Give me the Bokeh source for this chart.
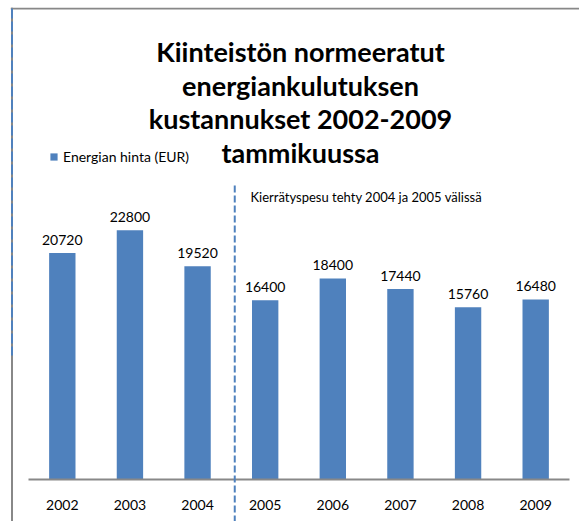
from bokeh.plotting import figure
from bokeh.models import (ColumnDataSource, LabelSet, Label, Legend, LegendItem,
                          Arrow, Range1d, FixedTicker, CustomJSTickFormatter)
from bokeh.core.properties import value
from bokeh.embed import file_html
from bokeh.resources import INLINE

# ---- data ----
years = ["2002", "2003", "2004", "2005", "2006", "2007", "2008", "2009"]
values = [20720, 22800, 19520, 16400, 18400, 17440, 15760, 16480]
title_lines = ["Kiinteistön normeeratut", "energiankulutuksen",
               "kustannukset 2002-2009", "tammikuussa"]
series_name = "Energian hinta (EUR)"
note_text = "Kierrätyspesu tehty 2004 ja 2005 välissä"

# ---- layout (pixels) ----
W, H = 579, 521
FRAME_LEFT, FRAME_TOP = 10, 7          # frame covers the rest of the canvas
AXIS_Y = 479                            # canvas y of the value 0 baseline
PLOT_X0, PLOT_X1 = 28, 569              # canvas x span of the category band
CAT_PX = (PLOT_X1 - PLOT_X0) / len(years)
UNITS_PER_PX = 43100 / 471              # value scale

FW = W - FRAME_LEFT
FH = H - FRAME_TOP

BLUE = "#4F81BD"
GRAY = "#888888"
FONT = "Lato"

xpos = [i + 0.5 for i in range(len(years))]
src = ColumnDataSource(dict(x=xpos, value=values,
                            label=[str(v) for v in values]))

x_start = -(PLOT_X0 - FRAME_LEFT) / CAT_PX
x_end = len(years) + (W - PLOT_X1) / CAT_PX
y_start = -(H - AXIS_Y) * UNITS_PER_PX
y_end = (AXIS_Y - FRAME_TOP) * UNITS_PER_PX

p = figure(width=W, height=H,
           x_range=Range1d(x_start, x_end),
           y_range=Range1d(y_start, y_end),
           output_backend="svg", toolbar_location=None,
           min_border_left=FRAME_LEFT, min_border_right=0,
           min_border_top=FRAME_TOP, min_border_bottom=0)

p.outline_line_color = None
p.background_fill_color = "white"
p.border_fill_color = "white"
p.xgrid.visible = False
p.ygrid.visible = False
p.yaxis.visible = False

ax = p.xaxis[0]
ax.fixed_location = 0
ax.ticker = FixedTicker(ticks=xpos, minor_ticks=[])
ax.formatter = CustomJSTickFormatter(args=dict(labels=years),
                                     code="return labels[Math.floor(tick)] ?? ''")
ax.axis_line_color = None
ax.major_tick_line_color = None
ax.minor_tick_line_color = None
ax.major_tick_out = 0
ax.major_tick_in = 0
ax.major_label_text_font = FONT
ax.major_label_text_font_size = "14px"
ax.major_label_text_color = "black"
ax.major_label_standoff = 20

# baseline of the category axis
p.add_layout(Arrow(end=None, x_start=0, y_start=0, x_end=len(years), y_end=0,
                   start_units="data", end_units="data",
                   line_color=GRAY, line_width=2))

bars = p.vbar(x="x", top="value", width=0.39, source=src,
              fill_color=BLUE, line_color=None)

labels = LabelSet(x="x", y="value", text="label", source=src,
                  text_align="center", text_baseline="alphabetic",
                  y_offset=8, text_font=value(FONT),
                  text_font_size="14px", text_color="black")
p.add_layout(labels)

# title lines (screen units relative to frame bottom-left)
baselines = [51, 84.5, 118, 151.5]
for line, bl in zip(title_lines, baselines):
    p.add_layout(Label(x=300 - FRAME_LEFT, y=H - bl, x_units="screen", y_units="screen",
                       text=line, text_align="center", text_baseline="alphabetic",
                       text_font=FONT, text_font_style="bold",
                       text_font_size="27px", text_color="black"))

# annotation note
p.add_layout(Label(x=250 - FRAME_LEFT, y=H - 196, x_units="screen", y_units="screen",
                   text=note_text, text_align="left", text_baseline="alphabetic",
                   text_font=FONT, text_font_size="13px", text_color="black"))

# dashed separator between 2004 and 2005
p.add_layout(Arrow(end=None, x_start=3.05, y_start=(AXIS_Y - 185) * UNITS_PER_PX,
                   x_end=3.05, y_end=y_start,
                   start_units="data", end_units="data",
                   line_color=BLUE, line_width=2, line_dash="7 3"))

# chart border (top and left)
p.add_layout(Arrow(end=None, x_start=0, y_start=FH - 1, x_end=FW, y_end=FH - 1,
                   start_units="screen", end_units="screen",
                   line_color=GRAY, line_width=2))
p.add_layout(Arrow(end=None, x_start=1.5, y_start=FH, x_end=1.5, y_end=0,
                   start_units="screen", end_units="screen",
                   line_color=GRAY, line_width=2))
p.add_layout(Arrow(end=None, x_start=1.5, y_start=FH - 1, x_end=1.5, y_end=H - 355,
                   start_units="screen", end_units="screen",
                   line_color=BLUE, line_width=2, line_dash="10 3"))

legend = Legend(items=[LegendItem(label=series_name, renderers=[bars])],
                location=(49 - FRAME_LEFT, H - 165), orientation="vertical",
                padding=0, margin=0, spacing=0,
                border_line_color=None, background_fill_alpha=0,
                glyph_width=9, glyph_height=9, label_height=9,
                label_standoff=5, label_text_font=FONT,
                label_text_font_size="14px", label_text_color="black")
p.add_layout(legend)

open("out.html", "w").write(file_html(p, INLINE))
